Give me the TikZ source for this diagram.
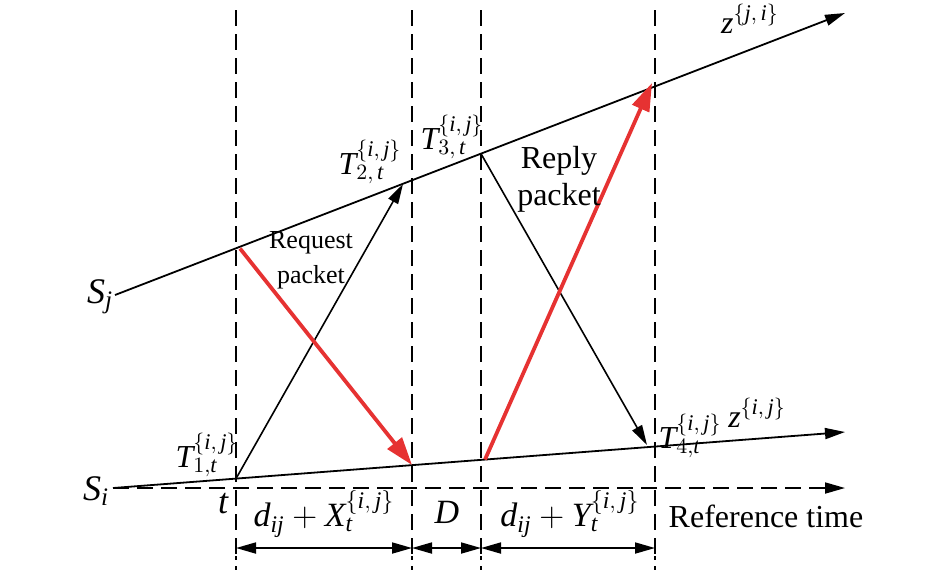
\documentclass[tikz,border=0pt]{standalone}
\usepackage{fontspec}
\setmainfont{Liberation Serif}
\usetikzlibrary{arrows.meta}
\newcommand{\vi}[1]{\mathit{#1}}
\newcommand{\ijsup}{\{\vi{i},\,\vi{j}\}}
\begin{document}
\begin{tikzpicture}[x=0.5pt,y=-0.5pt,
  axis/.style={line width=0.9pt,black},
  guide/.style={line width=0.9pt,black,dash pattern=on 8pt off 4pt},
  guideend/.style={line width=0.9pt,black,dash pattern=on 2pt off 3pt},
  blk/.style={line width=0.8pt,black,-{Triangle[length=10pt,width=5.5pt]}},
  redarr/.style={line width=1.9pt,color={rgb,255:red,230;green,50;blue,50},-{Triangle[length=14pt,width=9pt]}},
  dim/.style={line width=0.9pt,black,{Triangle[length=10pt,width=5.5pt]}-{Triangle[length=10pt,width=5.5pt]}},
  lbl/.style={inner sep=0pt,font=\fontsize{16}{18}\selectfont},
  txt/.style={inner sep=0pt,align=center,font=\fontsize{16}{18.5}\selectfont},
  smalltxt/.style={inner sep=0pt,align=center,font=\fontsize{13}{17.5}\selectfont}]
\useasboundingbox (0,0) rectangle (945,570);
% coordinates
\coordinate (sj0) at (115,295);
\coordinate (sj1) at (845,13);
\coordinate (si0) at (113,488);
\coordinate (si1) at (845,432);
\coordinate (r0) at (113,488);
\coordinate (r1) at (845,488);
\coordinate (a1s) at (236,478.6);
\coordinate (a1e) at (403,184);
\coordinate (a2s) at (481,153.7);
\coordinate (a2e) at (647,445);
\coordinate (b1s) at (240,248.5);
\coordinate (b1e) at (412,465);
\coordinate (b2s) at (485,459.5);
\coordinate (b2e) at (652,83);
\foreach \n/\x in {v1/236,v2/412,v3/481,v4/655}{
  \coordinate (\n t) at (\x,10);
  \coordinate (\n m) at (\x,556);
  \coordinate (\n b) at (\x,570);
  \coordinate (\n d) at (\x,548);
}
% guides
\draw[guide] (v1t) -- (v1m);
\draw[guide] (v2t) -- (v2m);
\draw[guide] (v3t) -- (v3m);
\draw[guide] (v4t) -- (v4m);
\draw[guideend] (v1m) -- (v1b);
\draw[guideend] (v2m) -- (v2b);
\draw[guideend] (v3m) -- (v3b);
\draw[guideend] (v4m) -- (v4b);
\draw[guide,-{Triangle[length=10pt,width=5.5pt]}] (r0) -- (r1);
% clock lines
\draw[axis,-{Triangle[length=10pt,width=5.5pt]}] (sj0) -- (sj1);
\draw[axis,-{Triangle[length=10pt,width=5.5pt]}] (si0) -- (si1);
% packets
\draw[blk] (a1s) -- (a1e);
\draw[blk] (a2s) -- (a2e);
\draw[redarr] (b1s) -- (b1e);
\draw[redarr] (b2s) -- (b2e);
% dimensions
\draw[dim] (v1d) -- (v2d);
\draw[dim] (v2d) -- (v3d);
\draw[dim] (v3d) -- (v4d);
% labels
\node[lbl] (zji) at (750,19) {$\vi{z}^{\{\vi{j},\,\vi{i}\}}$};
\node[lbl] (zij) at (757,413) {$\vi{z}^{\ijsup}$};
\node[lbl] (T1) at (207,455) {$\vi{T}^{\ijsup}_{1,\vi{t}}$};
\node[lbl] (T2) at (370,162) {$\vi{T}^{\ijsup}_{2,\,\vi{t}}$};
\node[lbl] (T3) at (452,137) {$\vi{T}^{\ijsup}_{3,\,\vi{t}}$};
\node[lbl] (T4) at (690,436) {$\vi{T}^{\ijsup}_{4,\vi{t}}$};
\node[lbl,font=\fontsize{18}{20}\selectfont] (Sj) at (100,297) {$\vi{S}_{\vi{j}}$};
\node[lbl,font=\fontsize{18}{20}\selectfont] (Si) at (96,491) {$\vi{S}_{\vi{i}}$};
\node[lbl,font=\fontsize{18}{20}\selectfont] (t) at (223,504) {$\vi{t}$};
\node[lbl,font=\fontsize{17}{20}\selectfont] (dx) at (324,514) {$\vi{d}_{\vi{ij}}+\vi{X}^{\ijsup}_{\vi{t}}$};
\node[lbl,font=\fontsize{17}{20}\selectfont] (D) at (447,512) {$\vi{D}$};
\node[lbl,font=\fontsize{17}{20}\selectfont] (dy) at (570,514) {$\vi{d}_{\vi{ij}}+\vi{Y}^{\ijsup}_{\vi{t}}$};
\node[txt] (reply) at (559,179) {Reply\\packet};
\node[smalltxt] (req) at (311,260) {Request\\packet};
\node[txt] (ref) at (766,516) {Reference time};
\end{tikzpicture}
\end{document}
